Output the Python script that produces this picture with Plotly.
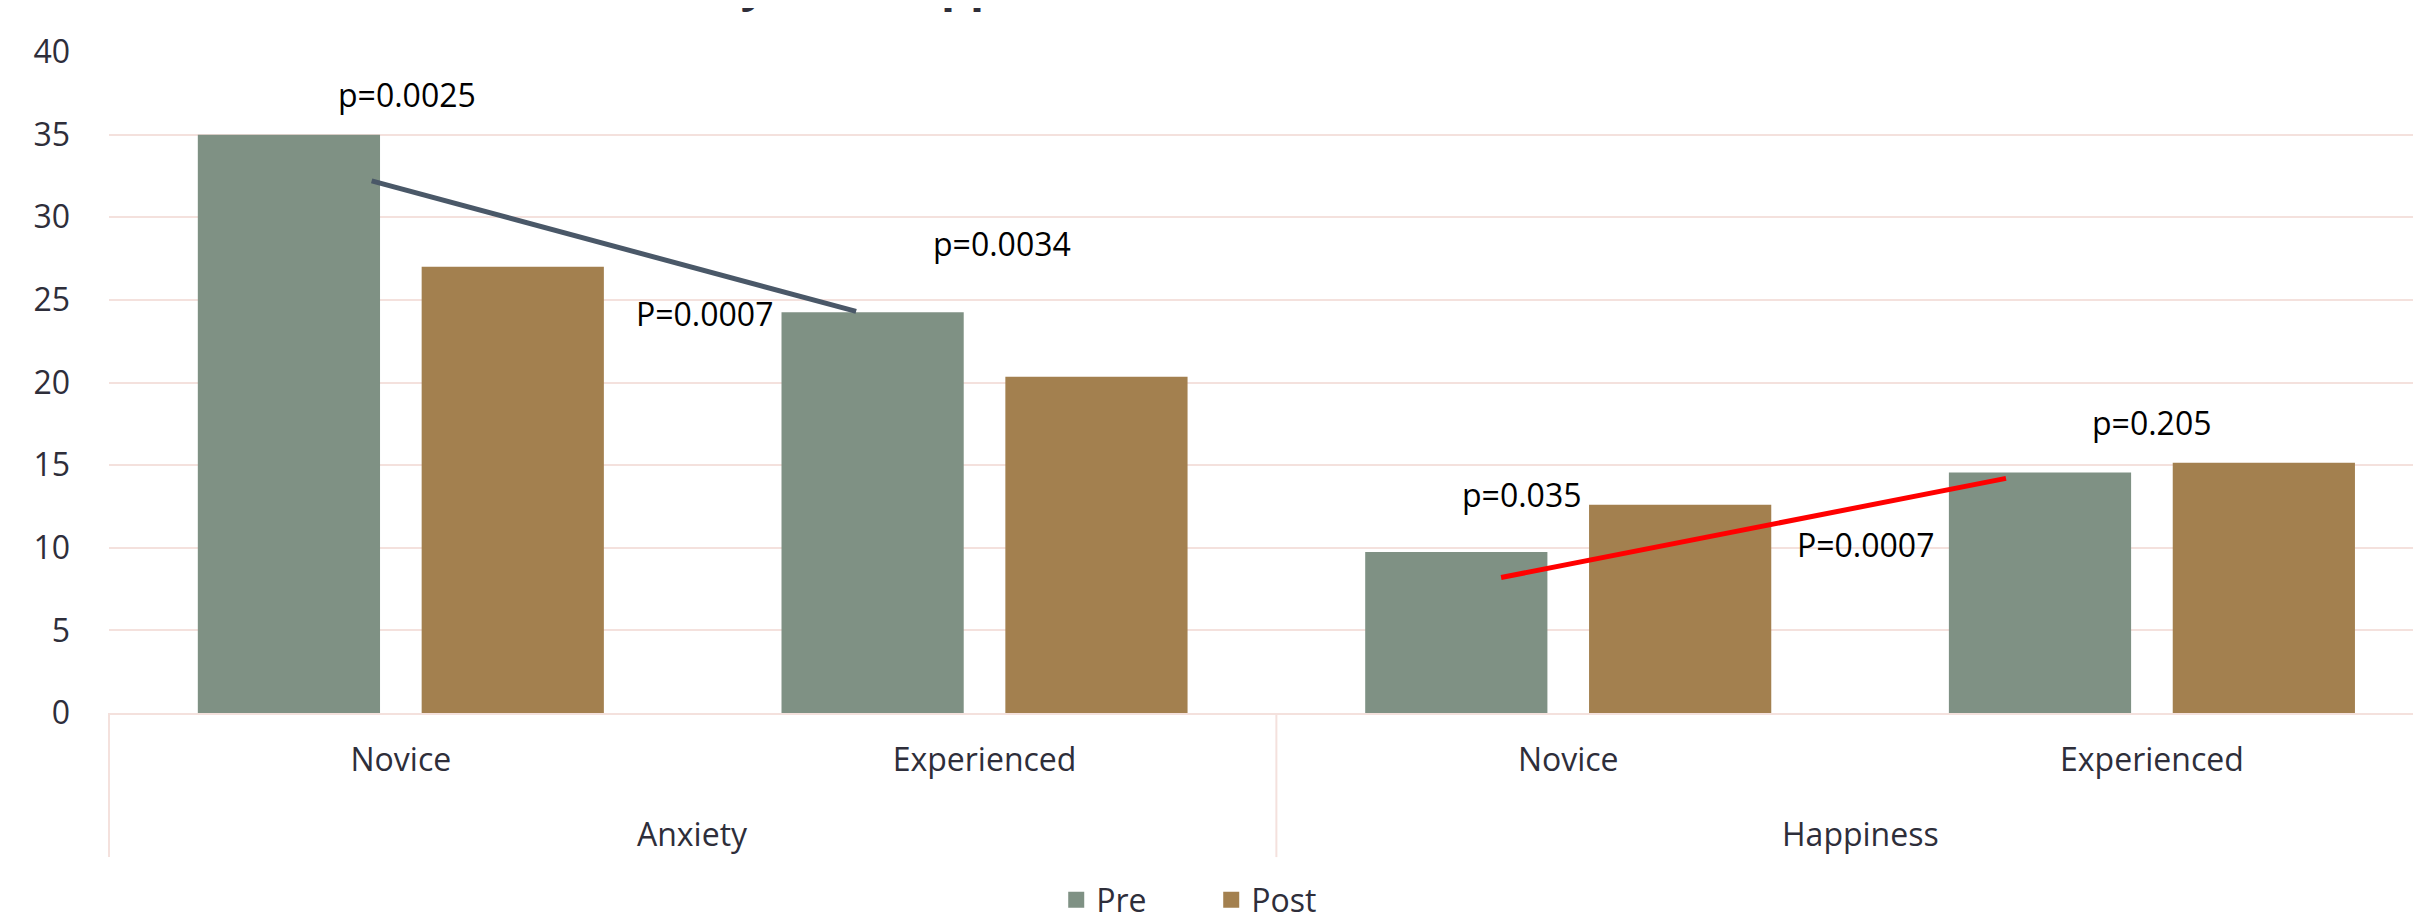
import plotly.graph_objects as go

# ---- data ----
measures = ["Anxiety", "Anxiety", "Happiness", "Happiness"]
levels = ["Novice", "Experienced", "Novice", "Experienced"]
pre = [35.0, 24.25, 9.75, 14.55]
post = [27.0, 20.35, 12.6, 15.15]

p_labels = ["p=0.0025", "p=0.0034", "P=0.0007", "p=0.035", "P=0.0007", "p=0.205"]
p_x = [0.01, 1.03, 0.52, 1.92, 2.51, 3.0]
p_y = [37.4, 28.4, 24.2, 13.2, 10.2, 17.6]

link_x = [[-0.05, 0.78], [1.885, 2.75]]
link_y = [[32.2, 24.3], [8.2, 14.2]]
link_colors = ["#4a5868", "#ff0000"]

title_text = "Anxiety and Happiness"

# ---- style ----
FONT = "Open Sans"
GRID = "#f4e1dd"
TXT = "#2e2e3a"
PRE_COLOR = "#7f9184"
POST_COLOR = "#a3804f"
X_RANGE = [-0.5, 3.461]

pos = list(range(len(levels)))

fig = go.Figure()
fig.add_trace(go.Bar(name="Pre", x=pos, y=pre, showlegend=False, legendgroup="pre",
                     marker=dict(color=PRE_COLOR, line=dict(width=0))))
fig.add_trace(go.Bar(name="Post", x=pos, y=post, showlegend=False, legendgroup="post",
                     marker=dict(color=POST_COLOR, line=dict(width=0))))
# legend swatches (larger square keys, like the original)
for nm, col, grp in [("Pre", PRE_COLOR, "pre"), ("Post", POST_COLOR, "post")]:
    fig.add_trace(go.Scatter(name=nm, x=[None], y=[None], mode="markers", legendgroup=grp,
                             marker=dict(symbol="square", size=16, color=col,
                                         line=dict(width=0))))

# connector lines
for lx, ly, col in zip(link_x, link_y, link_colors):
    fig.add_shape(type="line", xref="x", yref="y",
                  x0=lx[0], x1=lx[1], y0=ly[0], y1=ly[1],
                  line=dict(color=col, width=5))

# p-value labels
for t, x, y in zip(p_labels, p_x, p_y):
    fig.add_annotation(text=t, x=x, y=y, xref="x", yref="y", showarrow=False,
                       font=dict(family=FONT, size=32, color="#000000"),
                       xanchor="center", yanchor="middle")

# group labels and dividers (second level of the category axis)
groups = []
for i, m in enumerate(measures):
    if not groups or groups[-1][0] != m:
        groups.append([m, i, i])
    else:
        groups[-1][2] = i

def to_paper(v):
    return (v - X_RANGE[0]) / (X_RANGE[1] - X_RANGE[0])

bounds = set()
for name, i0, i1 in groups:
    fig.add_annotation(text=name, x=(i0 + i1) / 2, xref="x", y=-0.183, yref="paper",
                       showarrow=False, xanchor="center", yanchor="middle",
                       font=dict(family=FONT, size=32, color=TXT))
    bounds.add(i0 - 0.5)
    bounds.add(i1 + 0.5)
for b in sorted(bounds):
    px = to_paper(b)
    if 0 <= px <= 1:
        fig.add_shape(type="line", xref="paper", yref="paper", x0=px, x1=px,
                      y0=0, y1=-0.218, line=dict(color=GRID, width=2))

fig.add_annotation(text="<b>" + title_text + "</b>", xref="paper", yref="paper",
                   x=0.322, y=1.054, xanchor="center", yanchor="bottom",
                   showarrow=False, font=dict(family=FONT, size=46, color=TXT))

fig.update_layout(
    width=2413, height=904,
    margin=dict(l=101, r=0, t=44, b=199, autoexpand=False),
    paper_bgcolor="white", plot_bgcolor="white",
    barmode="group", bargap=0.233, bargroupgap=0.186,
    font=dict(family=FONT, size=32, color=TXT),
    showlegend=True,
    legend=dict(orientation="h", x=0.4097, xanchor="left", y=-0.283, yanchor="middle",
                font=dict(family=FONT, size=32, color=TXT), entrywidth=110,
                itemsizing="trace", bgcolor="rgba(0,0,0,0)"),
)
fig.update_xaxes(range=X_RANGE, tickvals=pos, ticktext=levels, showgrid=False,
                 showline=True, linecolor=GRID, linewidth=2,
                 ticks="", zeroline=False, ticklabelstandoff=18,
                 tickfont=dict(family=FONT, size=32, color=TXT))
fig.update_yaxes(range=[0, 40], dtick=5, showgrid=True, gridcolor=GRID, gridwidth=2,
                 zeroline=False, showline=False, ticks="", ticklabelstandoff=38,
                 tickfont=dict(family=FONT, size=32, color=TXT))

fig.write_html("out.html")
